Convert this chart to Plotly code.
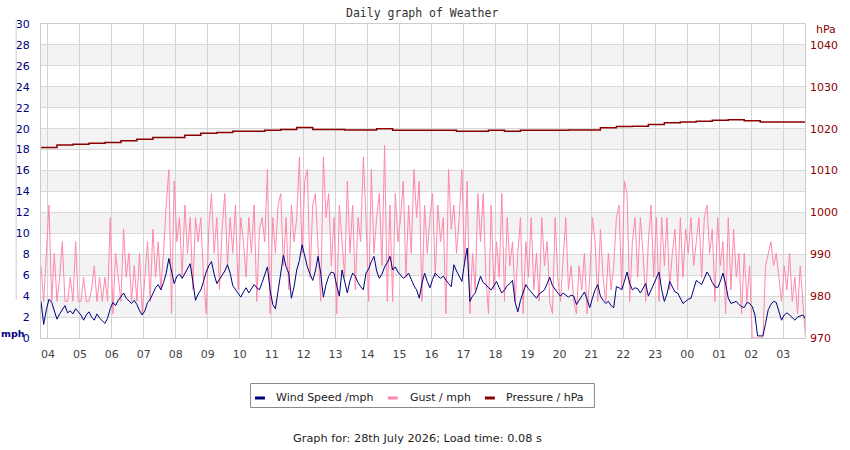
import pandas as pd
import plotly.graph_objects as go

# ---------------- data ----------------
START = "2026-07-27 03:47"
END = "2026-07-28 03:41"
HOUR_TICK0 = "2026-07-27 04:00"

# wind speed, mph, every 5 minutes from START
WIND_MPH = [
    3.5, 1.3, 2.7, 3.7, 3.4, 2.5, 1.8, 2.3, 2.7, 3.1, 2.4, 2.6,
    2.3, 2.8, 2.5, 2.2, 1.7, 2.2, 2.5, 2.0, 1.7, 2.3, 1.9, 1.6,
    1.4, 1.9, 2.8, 3.4, 3.1, 3.6, 4.0, 4.3, 3.8, 3.5, 3.3, 3.6,
    3.2, 2.6, 2.2, 2.6, 3.4, 3.7, 4.3, 4.8, 5.1, 4.6, 5.3, 6.2,
    7.6, 6.4, 5.2, 5.9, 6.1, 5.7, 6.2, 6.6, 7.1, 5.4, 3.6, 4.2,
    4.6, 5.4, 6.3, 6.9, 7.3, 6.1, 5.2, 5.6, 6.0, 6.4, 7.0, 6.2,
    5.0, 4.6, 4.2, 3.9, 4.4, 4.8, 4.3, 4.7, 5.1, 4.8, 4.6, 5.3,
    6.1, 6.8, 4.6, 3.2, 2.8, 4.4, 6.2, 7.9, 6.8, 6.2, 3.8, 4.9,
    6.5, 7.4, 8.9, 7.8, 6.8, 6.1, 5.5, 6.4, 7.8, 6.2, 3.9, 5.1,
    5.9, 6.3, 6.2, 5.0, 4.0, 6.5, 5.4, 4.3, 5.5, 6.2, 5.9, 5.3,
    4.9, 4.6, 6.2, 6.6, 7.3, 7.8, 6.4, 5.7, 6.1, 6.8, 7.2, 7.8,
    6.5, 6.8, 6.3, 6.0, 5.7, 5.9, 6.2, 5.6, 5.0, 4.6, 3.8, 5.2,
    6.2, 5.4, 4.8, 5.6, 6.2, 5.9, 5.7, 5.9, 5.5, 5.2, 4.9, 7.0,
    6.4, 5.9, 5.4, 7.2, 8.6, 3.5, 4.0, 4.3, 5.0, 5.9, 5.3, 5.1,
    4.8, 4.6, 5.0, 5.4, 4.8, 4.3, 4.6, 5.0, 5.2, 5.5, 3.4, 2.5,
    3.6, 4.4, 5.1, 4.7, 4.4, 4.1, 3.8, 4.2, 4.4, 4.6, 5.2, 5.8,
    5.0, 4.6, 4.3, 4.0, 4.3, 4.1, 3.9, 4.1, 4.0, 3.2, 3.6, 4.0,
    4.4, 3.7, 2.9, 3.8, 4.6, 5.1, 4.0, 3.6, 3.3, 3.5, 3.1, 2.9,
    4.9, 4.8, 4.6, 5.4, 6.3, 5.2, 4.6, 4.8, 4.7, 4.3, 4.8, 5.2,
    4.0, 4.6, 5.1, 5.8, 6.3, 4.6, 3.5, 4.2, 5.4, 4.9, 4.4, 4.3,
    3.8, 3.3, 3.5, 3.7, 3.8, 4.6, 5.5, 5.3, 5.1, 5.7, 6.3, 5.9,
    5.3, 4.9, 4.8, 5.4, 6.2, 5.2, 3.8, 3.3, 3.4, 3.5, 3.2, 3.0,
    2.9, 3.4, 3.3, 3.0, 2.2, 0.2, 0.2, 0.2, 1.4, 2.7, 3.2, 3.5,
    3.4, 2.6, 1.7, 2.2, 2.4, 2.2, 1.9, 1.7, 2.0, 2.1, 2.2, 1.8,
]

# gust, mph, every 5 minutes from START
GUST_MPH = [
    6.9, 3.5, 8.1, 12.7, 3.5, 8.1, 3.5, 5.8, 9.2, 3.5, 3.5, 5.8,
    3.5, 9.2, 3.5, 3.5, 5.8, 3.5, 3.5, 4.6, 6.9, 3.5, 5.8, 3.5,
    5.8, 3.5, 11.5, 2.3, 8.1, 5.8, 3.5, 10.4, 5.8, 8.1, 3.5, 6.9,
    3.5, 8.1, 2.3, 5.8, 9.2, 3.5, 10.4, 5.8, 9.2, 4.6, 8.1, 12.7,
    16.1, 2.3, 15.0, 9.2, 11.5, 5.8, 12.7, 8.1, 11.5, 4.6, 11.5, 9.2,
    11.5, 5.8, 2.3, 10.4, 13.8, 8.1, 11.5, 4.6, 10.4, 13.8, 6.9, 11.5,
    8.1, 12.7, 4.6, 11.5, 9.2, 5.8, 11.5, 8.1, 12.7, 3.5, 10.4, 11.5,
    9.2, 16.1, 2.3, 11.5, 8.1, 12.7, 13.8, 6.9, 11.5, 4.6, 12.7, 9.2,
    11.5, 17.3, 8.1, 15.0, 16.1, 5.8, 12.7, 13.8, 9.2, 3.5, 17.3, 11.5,
    13.8, 6.9, 11.5, 2.3, 12.7, 9.2, 5.8, 15.0, 8.1, 12.7, 4.6, 11.5,
    9.2, 17.3, 11.5, 3.5, 16.1, 8.1, 11.5, 13.8, 6.9, 18.4, 3.5, 12.7,
    3.5, 13.8, 9.2, 11.5, 15.0, 5.8, 12.7, 8.1, 16.1, 11.5, 15.0, 3.5,
    12.7, 8.1, 11.5, 13.8, 5.8, 12.7, 9.2, 11.5, 2.3, 16.1, 10.4, 12.7,
    8.1, 11.5, 16.1, 6.9, 15.0, 2.3, 8.1, 4.6, 13.8, 9.2, 13.8, 5.8,
    2.3, 12.7, 4.6, 9.2, 5.8, 13.8, 3.5, 11.5, 6.9, 9.2, 3.5, 8.1,
    11.5, 2.3, 9.2, 5.8, 11.5, 4.6, 8.1, 3.5, 11.5, 6.9, 9.2, 3.5,
    2.3, 11.5, 5.8, 3.5, 8.1, 11.5, 4.6, 6.9, 3.5, 2.3, 6.9, 4.6,
    8.1, 2.3, 5.8, 11.5, 9.2, 3.5, 10.4, 5.8, 3.5, 8.1, 4.6, 6.9,
    11.5, 12.7, 4.6, 15.0, 13.8, 3.5, 9.2, 11.5, 5.8, 11.5, 8.1, 3.5,
    9.2, 12.7, 5.8, 11.5, 3.5, 11.5, 6.9, 11.5, 4.6, 8.1, 10.4, 4.6,
    11.5, 5.8, 10.4, 8.1, 11.5, 6.9, 9.2, 11.5, 5.8, 11.5, 12.7, 8.1,
    10.4, 3.5, 11.5, 6.9, 9.2, 2.3, 11.5, 4.6, 10.4, 5.8, 8.1, 2.3,
    8.1, 3.5, 6.9, 0.0, 0.0, 0.0, 0.0, 0.0, 6.9, 8.1, 9.2, 6.9,
    8.1, 5.8, 3.5, 6.9, 4.6, 8.1, 3.5, 5.8, 2.3, 6.9, 3.5, 0.0,
]

# pressure, hPa, every 30 minutes from START
PRESSURE_HPA = [
    1015.5, 1016.1, 1016.3, 1016.5, 1016.7, 1017.1, 1017.5, 1017.9,
    1017.9, 1018.4, 1018.9, 1019.1, 1019.4, 1019.4, 1019.6, 1019.8,
    1020.3, 1019.8, 1019.8, 1019.7, 1019.7, 1020.0, 1019.6, 1019.6,
    1019.6, 1019.6, 1019.4, 1019.4, 1019.6, 1019.4, 1019.6, 1019.6,
    1019.6, 1019.7, 1019.7, 1020.2, 1020.5, 1020.6, 1021.0, 1021.4,
    1021.6, 1021.8, 1022.0, 1022.1, 1021.9, 1021.6, 1021.6, 1021.6,
    1021.6,
]

MPH_TICKS = list(range(0, 31, 2))
HPA_TICKS = [970, 980, 990, 1000, 1010, 1020, 1030, 1040]
TITLE = "Daily graph of Weather"
FOOTER = "Graph for: 28th July 2026; Load time: 0.08 s"
LEGEND_LABELS = ["Wind Speed /mph", "Gust / mph", "Pressure / hPa"]

# ---------------- styling ----------------
WIND_COLOR = "#000080"
GUST_COLOR = "#ff88aa"
PRES_COLOR = "#8b0000"
FONT = "DejaVu Sans"

W, H = 850, 450
ML, MR, MT, MB = 41, 38, 24, 112
PW, PH = W - ML - MR, H - MT - MB


def px_x(px):
    return (px - ML) / PW


def px_y(py):
    return (H - MB - py) / PH


wind_t = pd.date_range(START, periods=len(WIND_MPH), freq="5min")
gust_t = pd.date_range(START, periods=len(GUST_MPH), freq="5min")
pres_t = pd.date_range(START, periods=len(PRESSURE_HPA), freq="30min")

fig = go.Figure()
fig.add_trace(go.Scatter(x=gust_t, y=GUST_MPH, mode="lines",
                         line=dict(color=GUST_COLOR, width=1), name=LEGEND_LABELS[1]))
fig.add_trace(go.Scatter(x=wind_t, y=WIND_MPH, mode="lines",
                         line=dict(color=WIND_COLOR, width=1), name=LEGEND_LABELS[0]))
fig.add_trace(go.Scatter(x=pres_t, y=PRESSURE_HPA, mode="lines", yaxis="y2",
                         line=dict(color=PRES_COLOR, width=1.5, shape="hv"),
                         name=LEGEND_LABELS[2]))

shapes = []
# alternating grey bands
for lo in range(2, 30, 4):
    shapes.append(dict(type="rect", xref="paper", yref="y", x0=0, x1=1, y0=lo, y1=lo + 2,
                       fillcolor="#f3f3f3", line=dict(width=0), layer="below"))
# faint line at far left
shapes.append(dict(type="line", xref="paper", yref="paper", x0=px_x(16), x1=px_x(16),
                   y0=px_y(300), y1=px_y(21), line=dict(color="#d0d0d0", width=1)))

# manual legend
shapes.append(dict(type="rect", xref="paper", yref="paper", x0=px_x(252.5), x1=px_x(599.5),
                   y0=px_y(407.5), y1=px_y(383.5), line=dict(color="#888888", width=1),
                   fillcolor="white"))
legend_items = [(257, 277, WIND_COLOR), (391, 412, GUST_COLOR), (489, 509, PRES_COLOR)]
annotations = []
for (sx, tx, col), label in zip(legend_items, LEGEND_LABELS):
    shapes.append(dict(type="line", xref="paper", yref="paper", x0=px_x(sx), x1=px_x(sx + 10),
                       y0=px_y(398), y1=px_y(398), line=dict(color=col, width=3)))
    annotations.append(dict(text=label, xref="paper", yref="paper", x=px_x(tx - 1), y=px_y(397),
                            xanchor="left", yanchor="middle", showarrow=False,
                            font=dict(family=FONT, size=11, color="#222222")))

annotations += [
    dict(text=TITLE, xref="paper", yref="paper", x=px_x(425), y=px_y(12.5), xanchor="center",
         yanchor="middle", showarrow=False,
         font=dict(family="DejaVu Sans Mono", size=11.5, color="#333333")),
    dict(text=FOOTER, xref="paper", yref="paper", x=px_x(421), y=px_y(438), xanchor="center",
         yanchor="middle", showarrow=False, font=dict(family=FONT, size=11.3, color="#222222")),
    dict(text="<b>mph</b>", xref="paper", yref="paper", x=px_x(12.5), y=px_y(333),
         xanchor="center", yanchor="middle", showarrow=False, borderpad=0,
         font=dict(family=FONT, size=9.5, color=WIND_COLOR)),
    dict(text="hPa", xref="paper", yref="paper", x=px_x(821), y=px_y(29), xanchor="left",
         yanchor="middle", showarrow=False, font=dict(family=FONT, size=11, color=PRES_COLOR)),
]

fig.update_layout(
    width=W, height=H,
    margin=dict(l=ML, r=MR, t=MT, b=MB, pad=0),
    paper_bgcolor="white", plot_bgcolor="white",
    showlegend=False,
    font=dict(family=FONT, size=11),
    shapes=shapes, annotations=annotations,
    xaxis=dict(type="date", range=[START, END], tick0=HOUR_TICK0, dtick=3600000,
               tickformat="%H", showgrid=True, gridcolor="#d3d3d3", gridwidth=1,
               showline=True, linecolor="#cccccc", mirror=True, zeroline=False,
               ticks="", tickfont=dict(size=11, color="#444444"), ticklabelstandoff=6),
    yaxis=dict(range=[0, 30], tickvals=MPH_TICKS, showgrid=True, gridcolor="#d8d8d8",
               showline=True, linecolor="#cccccc", mirror=True, zeroline=False, ticks="",
               tickfont=dict(size=11, color=WIND_COLOR), ticklabelstandoff=8),
    yaxis2=dict(range=[970, 1045], tickvals=HPA_TICKS, overlaying="y", side="right",
                showgrid=False, zeroline=False, showline=False, ticks="",
                tickfont=dict(size=11, color=PRES_COLOR), ticklabelstandoff=4),
)

fig.write_html("out.html")
